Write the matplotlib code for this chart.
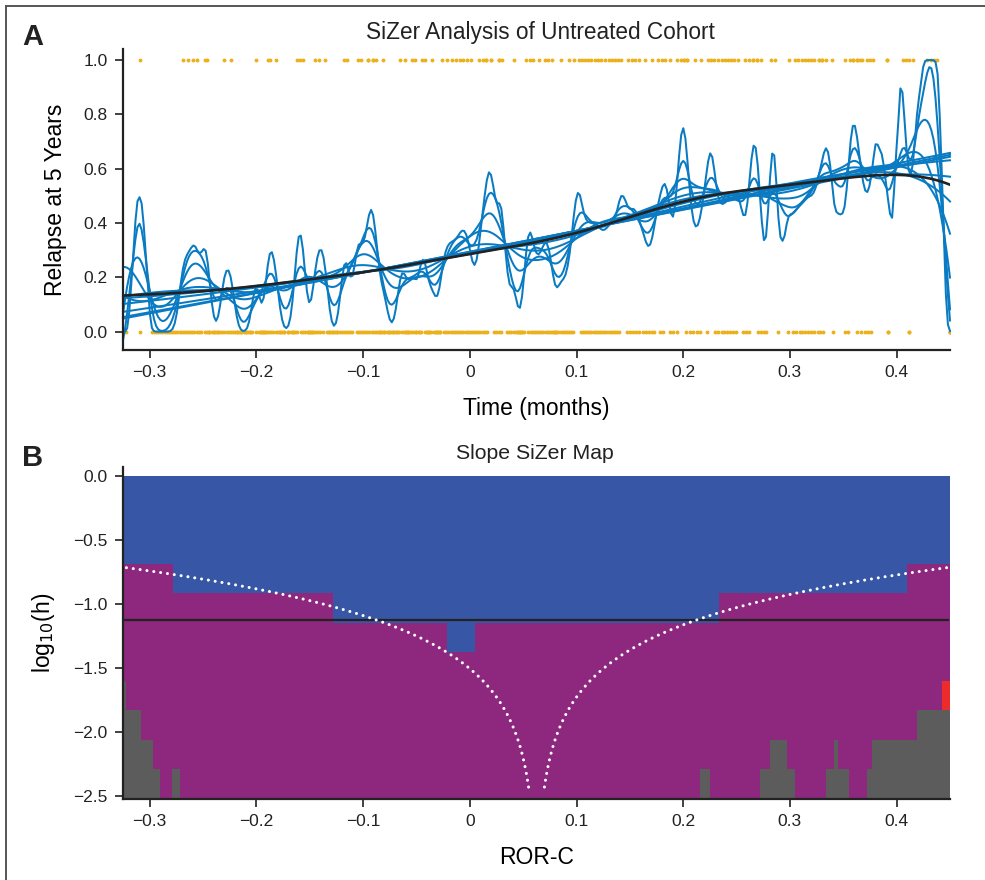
import numpy as np
import matplotlib
matplotlib.use("Agg")
import matplotlib.pyplot as plt
from matplotlib.colors import ListedColormap
from matplotlib.lines import Line2D

plt.rcParams['font.family'] = ['Liberation Sans', 'DejaVu Sans']
plt.rcParams['axes.unicode_minus'] = True

# ROR-C scores (in thousandths) of patients who relapsed within 5 years
relapse_ror_milli = [
    -309, -269, -264, -259, -256, -248, -246, -230, -224, -200, -189, -187, -182,
    -162, -159, -156, -145, -141, -136, -118, -115, -105, -102, -95, -91, -88, -81,
    -65, -61, -54, -51, -45, -42, -35, -26, -21, -17, -13, -9, -6, -3, 1, 9, 12, 15,
    20, 27, 30, 41, 53, 56, 59, 65, 70, 73, 77, 85, 93, 98, 102, 105, 108, 111, 114,
    117, 120, 123, 127, 130, 133, 136, 139, 142, 148, 152, 155, 159, 164, 171, 176,
    180, 183, 188, 194, 198, 201, 204, 211, 217, 223, 226, 229, 233, 236, 239, 242,
    245, 248, 251, 258, 262, 265, 269, 273, 282, 286, 299, 305, 308, 311, 314, 317,
    320, 323, 327, 330, 334, 339, 352, 356, 359, 363, 366, 368, 372, 375, 378, 391,
    406, 409, 412, 415, 428, 432, 435, 438,
    # tied scores
    -95, -91, 15, 20, 27, 201, 204, 265, 269, 327, 330, 359, 363, 391]

# ROR-C scores (in thousandths) of patients free of relapse at 5 years
no_relapse_ror_milli = [
    -322, -309, -298, -296, -294, -292, -290, -288, -286, -284, -282, -280, -278,
    -276, -274, -272, -270, -268, -266, -264, -262, -260, -258, -256, -254, -252,
    -248, -246, -244, -242, -240, -238, -236, -234, -232, -230, -228, -226, -224,
    -222, -220, -218, -216, -214, -212, -210, -208, -206, -204, -200, -198, -196,
    -194, -192, -190, -188, -186, -184, -182, -180, -178, -176, -174, -170, -168,
    -166, -164, -162, -158, -156, -154, -152, -150, -148, -146, -144, -142, -140,
    -138, -134, -132, -130, -128, -126, -124, -122, -120, -118, -116, -114, -112,
    -110, -106, -104, -102, -100, -98, -96, -94, -92, -90, -88, -86, -84, -82, -80,
    -78, -76, -74, -72, -70, -68, -66, -64, -62, -60, -58, -56, -54, -52, -50, -48,
    -46, -42, -40, -38, -36, -34, -32, -30, -28, -24, -22, -20, -18, -16, -14, -12,
    -10, -8, -6, -4, -2, 0, 2, 4, 6, 8, 10, 12, 14, 16, 23, 25, 27, 29, 35, 37, 39,
    41, 43, 45, 47, 49, 51, 55, 57, 59, 61, 63, 65, 67, 69, 71, 73, 75, 77, 79, 81,
    83, 85, 87, 89, 91, 93, 95, 97, 104, 106, 108, 110, 112, 114, 116, 118, 120, 122,
    124, 126, 128, 130, 132, 134, 136, 138, 140, 147, 150, 153, 156, 159, 162, 165,
    168, 171, 173, 178, 181, 188, 190, 194, 203, 206, 209, 213, 216, 222, 230, 233,
    236, 238, 241, 244, 247, 249, 256, 259, 262, 270, 273, 276, 278, 289, 298, 303,
    306, 309, 311, 314, 317, 320, 323, 326, 328, 331, 340, 352, 354, 363, 367, 370,
    373, 376, 392, 412, 450,
    # tied scores
    -244, -240, -236, -218, -214, -210, -206, -196, -194, -192, -178, -174, -170,
    -166, -152, -150, -148, -132, -128, -124, -84, -80, -76, -72, -68, -60, -58,
    -50, -48, -40, -38, -32, -30, -28, 45, 47, 49, 79, 81, 392, 412, 450, 450, 450]

# estimated number of patients behind each plotted score, by score band
# (dots overlap in the crowded middle of the range; 1 patient elsewhere)
band_edges_milli = [-110, -50, 200, 262]
patients_per_dot = [3, 6, 3]

# log10 bandwidths of the SiZer family (one map row each, top to bottom)
log_h_family = [-0.1145, -0.3435, -0.5725, -0.8015, -1.0305, -1.2595,
                -1.489, -1.7185, -1.9475, -2.1765, -2.4055]
log_h_row_edges = [0.0, -0.229, -0.458, -0.687, -0.916, -1.145, -1.374,
                   -1.603, -1.832, -2.061, -2.290, -2.52]
# highlighted bandwidth (black curve / black line)
log_h_highlight = -1.125

# SiZer map cells: (row, ror_start, ror_end); all other cells are not significant
increasing_cells = [(0, -0.325, 0.45), (1, -0.325, 0.45), (2, -0.325, 0.45),
                    (3, -0.278, 0.410), (4, -0.128, 0.2335), (5, -0.021, 0.005)]
decreasing_cells = [(7, 0.4425, 0.45)]
sparse_cells = [(7, -0.325, -0.3225), (8, -0.325, -0.308), (8, 0.419, 0.45),
                (9, -0.325, -0.297), (9, 0.281, 0.297), (9, 0.341, 0.345),
                (9, 0.377, 0.45), (10, -0.325, -0.290), (10, -0.2795, -0.272),
                (10, 0.2155, 0.225), (10, 0.272, 0.305), (10, 0.3335, 0.3555),
                (10, 0.372, 0.45)]

x_ticks = [-0.3, -0.2, -0.1, 0.0, 0.1, 0.2, 0.3, 0.4]
x_tick_labels = ['\u22120.3', '\u22120.2', '\u22120.1', '0', '0.1', '0.2', '0.3', '0.4']
relapse_ticks = [0.0, 0.2, 0.4, 0.6, 0.8, 1.0]
log_h_ticks = [0.0, -0.5, -1.0, -1.5, -2.0, -2.5]

XMIN, XMAX = -0.325, 0.45
BLUE_CURVE = '#0a7bc2'
DOT_GOLD = '#ebb01a'
MAP_COLORS = ['#8e277e', '#3756a5', '#5b5c5b', '#ec2b2b']  # flat, up, sparse, down


def local_linear(x, y, grid, h, ridge=0.004):
    """Gaussian-kernel local linear smoother with a small ridge term."""
    d = x[None, :] - grid[:, None]
    w = np.exp(-0.5 * (d / h) ** 2)
    s0 = w.sum(1)
    s1 = (w * d).sum(1)
    s2 = (w * d * d).sum(1) + s0 * ridge ** 2
    t0 = (w * y).sum(1)
    t1 = (w * d * y).sum(1)
    return (s2 * t0 - s1 * t1) / (s0 * s2 - s1 ** 2)


def expand(scores_milli):
    s = np.array(scores_milli)
    reps = np.ones(len(s), dtype=int)
    for i, n in enumerate(patients_per_dot):
        reps[(s >= band_edges_milli[i]) & (s < band_edges_milli[i + 1])] = n
    return np.repeat(s, reps) / 1000.0


x_rel = np.array(relapse_ror_milli) / 1000.0
x_free = np.array(no_relapse_ror_milli) / 1000.0
pat_rel = expand(relapse_ror_milli)
pat_free = expand(no_relapse_ror_milli)
x_all = np.concatenate([pat_rel, pat_free])
y_all = np.concatenate([np.ones_like(pat_rel), np.zeros_like(pat_free)])
grid = np.linspace(XMIN, XMAX, 401)

fig = plt.figure(figsize=(9.85, 8.8), dpi=100)

# ---------------- Panel A: family of smooths ----------------
axA = fig.add_axes([123 / 985, 1 - 350 / 880, 827 / 985, 301 / 880])
axA.plot(x_free, np.zeros_like(x_free), 'o', ms=2.8, color=DOT_GOLD, mec='none', zorder=1)
axA.plot(x_rel, np.ones_like(x_rel), 'o', ms=2.8, color=DOT_GOLD, mec='none', zorder=1)
for lh in log_h_family:
    fit = local_linear(x_all, y_all, grid, 10 ** lh)
    axA.plot(grid, fit, color=BLUE_CURVE, lw=1.45, zorder=2, clip_on=False)
fitk = local_linear(x_all, y_all, grid, 10 ** log_h_highlight)
axA.plot(grid, fitk, color='#222222', lw=1.9, zorder=3)

axA.set_xlim(XMIN, XMAX)
axA.set_ylim(-0.0674, 1.0405)
axA.set_xticks(x_ticks)
axA.set_xticklabels(x_tick_labels)
axA.set_yticks(relapse_ticks)
axA.set_yticklabels([f'{v:.1f}' for v in relapse_ticks])
axA.set_xlabel('Time (months)', fontsize=16.5, labelpad=12)
axA.set_ylabel('Relapse at 5 Years', fontsize=16.5, labelpad=12)

# ---------------- Panel B: slope SiZer map ----------------
axB = fig.add_axes([123 / 985, 1 - 799 / 880, 827 / 985, 332 / 880])
x_edges = np.linspace(XMIN, XMAX, 1551)
x_cent = 0.5 * (x_edges[:-1] + x_edges[1:])
classes = np.zeros((len(log_h_family), len(x_cent)))
for code, cells in ((1, increasing_cells), (2, sparse_cells), (3, decreasing_cells)):
    for row, a, b in cells:
        classes[row, (x_cent >= a) & (x_cent <= b)] = code
axB.pcolormesh(x_edges, log_h_row_edges, classes, cmap=ListedColormap(MAP_COLORS),
               vmin=-0.5, vmax=3.5, shading='flat', antialiased=False, zorder=1)
axB.plot([XMIN, 0.4485], [log_h_highlight] * 2, color='#222222', lw=1.6, zorder=2)

# lines at distance 2h either side of the centre of the range
centre = 0.5 * (XMIN + XMAX)
h_line = np.logspace(-2.43, np.log10((centre - XMIN) / 2), 300)
for side in (-1, 1):
    axB.plot(centre + side * 2 * h_line, np.log10(h_line), color='white', lw=2.2,
             linestyle=(0, (0.01, 2.25)), dash_capstyle='round', zorder=3)

axB.set_xlim(XMIN, XMAX)
axB.set_ylim(-2.5234, 0.0703)
axB.set_xticks(x_ticks)
axB.set_xticklabels(x_tick_labels)
axB.set_yticks(log_h_ticks)
axB.set_yticklabels([f'{v:.1f}'.replace('-', '\u2212') for v in log_h_ticks])
axB.set_xlabel('ROR-C', fontsize=16.5, labelpad=12)
axB.set_ylabel(r'log$_{10}$(h)', fontsize=16.5, labelpad=12)

for ax in (axA, axB):
    for s in ('top', 'right'):
        ax.spines[s].set_visible(False)
    for s in ('left', 'bottom'):
        ax.spines[s].set_linewidth(1.6)
        ax.spines[s].set_color('#222222')
    ax.tick_params(direction='out', length=6, width=1.3, color='#333333',
                   labelsize=12.5, labelcolor='#222222', pad=5)

fig.text(540 / 985, 1 - 33 / 880, 'SiZer Analysis of Untreated Cohort', ha='center',
         va='center', fontsize=16.3, color='#222222')
fig.text(535 / 985, 1 - 453 / 880, 'Slope SiZer Map', ha='center', va='center',
         fontsize=15.3, color='#222222')
fig.text(33 / 985, 1 - 37 / 880, 'A', ha='center', va='center', fontsize=21,
         fontweight='bold', color='#222222')
fig.text(33 / 985, 1 - 458 / 880, 'B', ha='center', va='center', fontsize=21,
         fontweight='bold', color='#222222')

# frame lines
fig.add_artist(Line2D([6 / 985, 6 / 985], [0, 1 - 6 / 880], color='#555555', lw=1.4))
fig.add_artist(Line2D([6 / 985, 1], [1 - 6 / 880, 1 - 6 / 880], color='#555555', lw=1.4))

fig.savefig('out.png', dpi=100)
